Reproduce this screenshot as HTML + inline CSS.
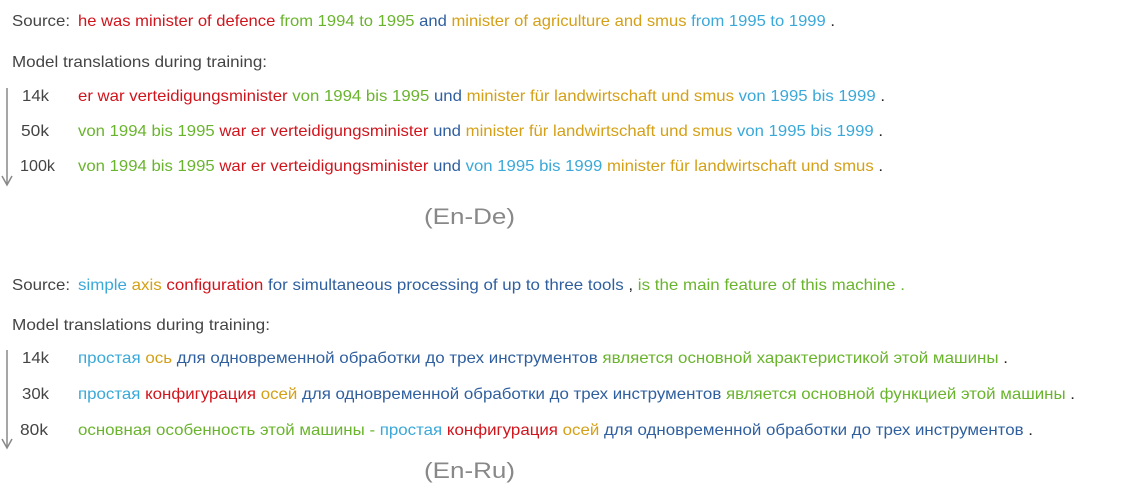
<!DOCTYPE html>
<html><head><meta charset="utf-8"><style>
html,body{margin:0;padding:0;background:#fff;}
svg{display:block;}
text{font-family:"Liberation Sans","DejaVu Sans",sans-serif;font-size:16px;fill:#444;}
.r{fill:#d0141c}.g{fill:#6ab42d}.b{fill:#2f5f9e}.y{fill:#d4a017}.c{fill:#3aa8d8}.k{fill:#222}
.big{font-size:22px;fill:#888}
</style></head><body>
<svg width="1148" height="491" viewBox="0 0 1148 491" xmlns="http://www.w3.org/2000/svg">
<text x="12" y="26" textLength="58" lengthAdjust="spacingAndGlyphs">Source:</text>
<text x="78" y="26" textLength="757" lengthAdjust="spacingAndGlyphs"><tspan class="r">he was minister of defence</tspan> <tspan class="g">from 1994 to 1995</tspan> <tspan class="b">and</tspan> <tspan class="y">minister of agriculture and smus</tspan> <tspan class="c">from 1995 to 1999</tspan> <tspan class="k">.</tspan></text>
<text x="12" y="67" textLength="255" lengthAdjust="spacingAndGlyphs">Model translations during training:</text>
<line x1="7" y1="88" x2="7" y2="184" stroke="#888" stroke-width="1.5"/>
<polyline points="2,176 7,185 12,176" fill="none" stroke="#888" stroke-width="1.5"/>
<text x="22" y="101" textLength="27" lengthAdjust="spacingAndGlyphs">14k</text>
<text x="78" y="101" textLength="807" lengthAdjust="spacingAndGlyphs"><tspan class="r">er war verteidigungsminister</tspan> <tspan class="g">von 1994 bis 1995</tspan> <tspan class="b">und</tspan> <tspan class="y">minister für landwirtschaft und smus</tspan> <tspan class="c">von 1995 bis 1999</tspan> <tspan class="k">.</tspan></text>
<text x="21" y="136" textLength="28" lengthAdjust="spacingAndGlyphs">50k</text>
<text x="78" y="136" textLength="805" lengthAdjust="spacingAndGlyphs"><tspan class="g">von 1994 bis 1995</tspan> <tspan class="r">war er verteidigungsminister</tspan> <tspan class="b">und</tspan> <tspan class="y">minister für landwirtschaft und smus</tspan> <tspan class="c">von 1995 bis 1999</tspan> <tspan class="k">.</tspan></text>
<text x="20" y="171" textLength="35" lengthAdjust="spacingAndGlyphs">100k</text>
<text x="78" y="171" textLength="805" lengthAdjust="spacingAndGlyphs"><tspan class="g">von 1994 bis 1995</tspan> <tspan class="r">war er verteidigungsminister</tspan> <tspan class="b">und</tspan> <tspan class="c">von 1995 bis 1999</tspan> <tspan class="y">minister für landwirtschaft und smus</tspan> <tspan class="k">.</tspan></text>
<text class="big" x="424" y="224" textLength="91" lengthAdjust="spacingAndGlyphs">(En-De)</text>

<text x="12" y="290" textLength="58" lengthAdjust="spacingAndGlyphs">Source:</text>
<text x="78" y="290" textLength="827" lengthAdjust="spacingAndGlyphs"><tspan class="c">simple</tspan> <tspan class="y">axis</tspan> <tspan class="r">configuration</tspan> <tspan class="b">for simultaneous processing of up to three tools</tspan> <tspan class="k">,</tspan> <tspan class="g">is the main feature of this machine .</tspan></text>
<text x="12" y="330" textLength="258" lengthAdjust="spacingAndGlyphs">Model translations during training:</text>
<line x1="7" y1="350" x2="7" y2="447" stroke="#888" stroke-width="1.5"/>
<polyline points="2,439 7,448 12,439" fill="none" stroke="#888" stroke-width="1.5"/>
<text x="22" y="363" textLength="27" lengthAdjust="spacingAndGlyphs">14k</text>
<text x="78" y="363" textLength="930" lengthAdjust="spacingAndGlyphs"><tspan class="c">простая</tspan> <tspan class="y">ось</tspan> <tspan class="b">для одновременной обработки до трех инструментов</tspan> <tspan class="g">является основной характеристикой этой машины</tspan> <tspan class="k">.</tspan></text>
<text x="22" y="399" textLength="27" lengthAdjust="spacingAndGlyphs">30k</text>
<text x="78" y="399" textLength="997" lengthAdjust="spacingAndGlyphs"><tspan class="c">простая</tspan> <tspan class="r">конфигурация</tspan> <tspan class="y">осей</tspan> <tspan class="b">для одновременной обработки до трех инструментов</tspan> <tspan class="g">является основной функцией этой машины</tspan> <tspan class="k">.</tspan></text>
<text x="20" y="435" textLength="28" lengthAdjust="spacingAndGlyphs">80k</text>
<text x="78" y="435" textLength="955" lengthAdjust="spacingAndGlyphs"><tspan class="g">основная особенность этой машины -</tspan> <tspan class="c">простая</tspan> <tspan class="r">конфигурация</tspan> <tspan class="y">осей</tspan> <tspan class="b">для одновременной обработки до трех инструментов</tspan> <tspan class="k">.</tspan></text>
<text class="big" x="424" y="478" textLength="91" lengthAdjust="spacingAndGlyphs">(En-Ru)</text>
</svg>
</body></html>
